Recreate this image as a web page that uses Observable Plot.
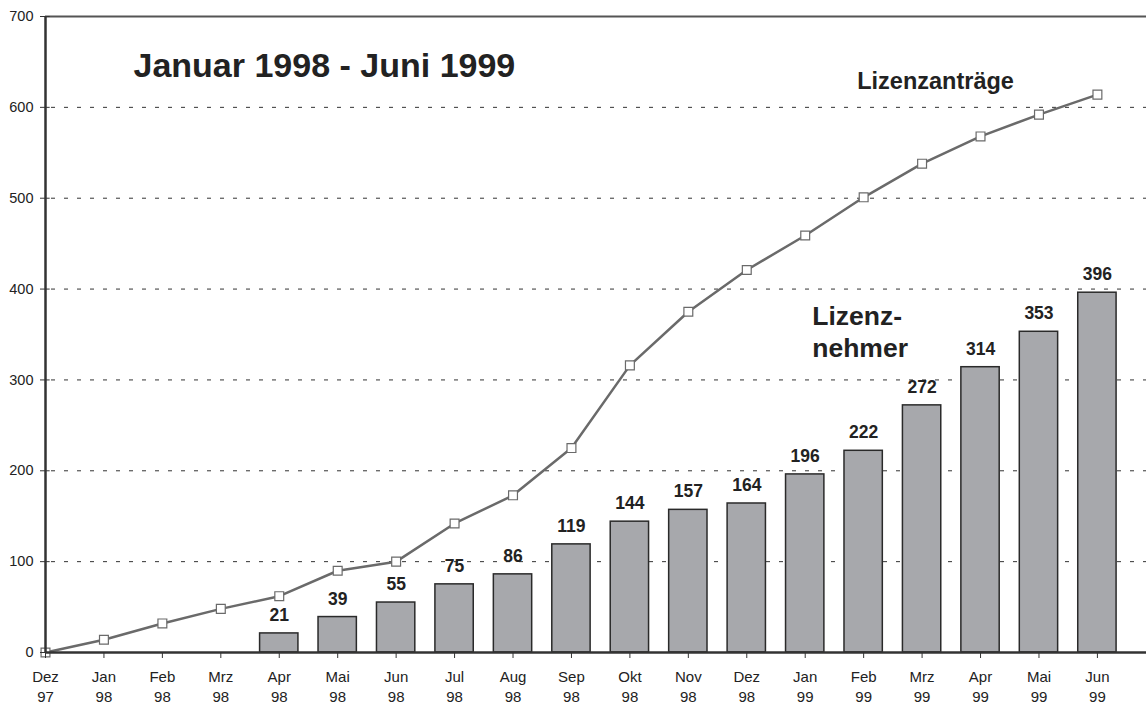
<!DOCTYPE html>
<html>
<head>
<meta charset="utf-8">
<script src="https://cdn.jsdelivr.net/npm/d3@7"></script>
<script src="https://cdn.jsdelivr.net/npm/@observablehq/plot@0.6"></script>
<style>
  html, body { margin: 0; padding: 0; background: #fff; }
  #chart svg { display: block; font-family: "Liberation Sans", Arial, sans-serif; }
</style>
</head>
<body>
<div id="chart"></div>
<script>
// ---- data ----
const months = ["Dez", "Jan", "Feb", "Mrz", "Apr", "Mai", "Jun", "Jul", "Aug", "Sep", "Okt", "Nov", "Dez", "Jan", "Feb", "Mrz", "Apr", "Mai", "Jun"];
const years  = ["97", "98", "98", "98", "98", "98", "98", "98", "98", "98", "98", "98", "98", "99", "99", "99", "99", "99", "99"];
const antraege = [0, 14, 32, 48, 62, 90, 100, 142, 173, 225, 316, 375, 421, 459, 501, 538, 568, 592, 614];
const nehmerMonths = [4, 5, 6, 7, 8, 9, 10, 11, 12, 13, 14, 15, 16, 17, 18];
const nehmer = [21, 39, 55, 75, 86, 119, 144, 157, 164, 196, 222, 272, 314, 353, 396];
const yTicks = [0, 100, 200, 300, 400, 500, 600, 700];
const gridValues = [100, 200, 300, 400, 500, 600];
const titleText = "Januar 1998 - Juni 1999";
const lineLabel = "Lizenzanträge";
const barLabel = "Lizenz-\nnehmer";

// ---- tables ----
const lineData = antraege.map((v, i) => ({i, v}));
const barData = nehmer.map((v, k) => ({i: nehmerMonths[k], v}));
const halfBar = 0.328;

const chart = Plot.plot({
  width: 1146,
  height: 707,
  marginLeft: 45,
  marginRight: 0,
  marginTop: 16,
  marginBottom: 55,
  style: {fontFamily: "'Liberation Sans', Arial, sans-serif", color: "#222", background: "#fff"},
  x: {type: "linear", domain: [0, 18.84], axis: null},
  y: {domain: [0, 700], axis: null},
  marks: [
    Plot.ruleY(gridValues, {stroke: "#333", strokeWidth: 1, strokeDasharray: "4,9", strokeDashoffset: -6}),
    Plot.rectY(barData, {x1: d => d.i - halfBar, x2: d => d.i + halfBar, y: "v", fill: "#a7a8ac", stroke: "#2a2a2a", strokeWidth: 1.5}),
    Plot.text(barData, {x: "i", y: "v", text: d => String(d.v), dy: -18, fontSize: 17.5, fontWeight: "bold", fill: "#222"}),
    Plot.line(lineData, {x: "i", y: "v", stroke: "#6a6a6a", strokeWidth: 2.5}),
    Plot.dot(lineData, {x: "i", y: "v", symbol: "square", r: 5, fill: "white", stroke: "#6a6a6a", strokeWidth: 1.2}),
    Plot.ruleY([700], {stroke: "#555", strokeWidth: 2}),
    Plot.ruleY([0], {stroke: "#333", strokeWidth: 2.5}),
    Plot.ruleX([0], {stroke: "#333", strokeWidth: 2.5}),
    Plot.ruleY(yTicks, {x1: 0, x2: 0.08, stroke: "#333", strokeWidth: 1}),
    Plot.axisY({ticks: yTicks, label: null, tickSize: 5, tickPadding: 7, tickFormat: d => String(d), fontSize: 14.5, stroke: "#333"}),
    Plot.axisX({ticks: d3.range(months.length), label: null, tickFormat: i => months[i] + "\n" + years[i], tickSize: 6, tickPadding: 10, fontSize: 15, lineHeight: 1.3, stroke: "#333"}),
    Plot.text([titleText], {x: 1.506, y: 633, text: d => d, textAnchor: "start", lineAnchor: "bottom", fontSize: 34, fontWeight: "bold", fill: "#222"}),
    Plot.text([lineLabel], {x: 13.89, y: 620.7, text: d => d, textAnchor: "start", lineAnchor: "bottom", fontSize: 23.5, fontWeight: "bold", fill: "#222"}),
    Plot.text([barLabel], {x: 13.12, y: 324.7, text: d => d, textAnchor: "start", lineAnchor: "bottom", fontSize: 26.5, lineHeight: 1.21, fontWeight: "bold", fill: "#222"})
  ]
});
document.getElementById("chart").appendChild(chart);
</script>
</body>
</html>
